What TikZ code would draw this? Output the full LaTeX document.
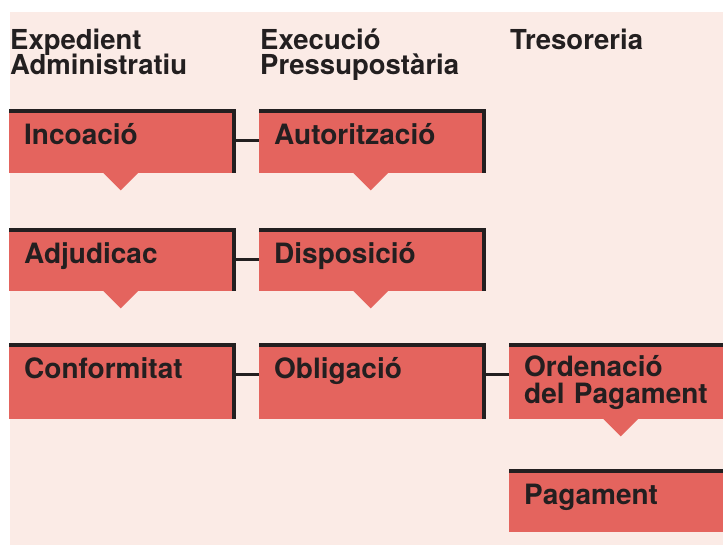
\documentclass[tikz,border=0pt]{standalone}
\usepackage{fontspec}
\setmainfont{TeX Gyre Heros}
\definecolor{bgpink}{RGB}{251,235,230}
\definecolor{boxred}{RGB}{228,100,94}
\definecolor{barblack}{RGB}{35,31,32}
\AtBeginDocument{\lineskiplimit=-20pt\relax}

\begin{document}
\begin{tikzpicture}[x=1pt,y=-1pt,
        head/.style={anchor=base west,inner sep=0pt,align=left,text=barblack,
            font=\fontsize{27.5}{25}\selectfont\bfseries},
        stage/.style={fill=boxred,anchor=north west,inner xsep=15pt,inner ysep=0pt,
            text width=197pt,align=left,text height=35pt,text=barblack,
            font=\fontsize{28}{27}\selectfont\bfseries},
        bar/.style={draw=barblack,line width=4pt},
        link/.style={draw=barblack,line width=3pt},
        pointer/.style={fill=boxred}]
            \useasboundingbox (0,0) rectangle (723,545);
            \fill[bgpink] (10,12) rectangle (723,545);

            % headers
            \node[head] (expedient) at (10,75) {Expedient\\Administratiu};
            \node[head] (execucio) at (260,75) {Execució\\Pressupostària};
            \node[head] (tresoreria) at (510,50) {Tresoreria};

            % row 1
            \node[stage,text depth=29pt] (incoacio) at (9,109) {Incoació};
            \node[stage,text depth=29pt] (autoritzacio) at (259,109) {Autorització};
            % row 2
            \node[stage,text depth=28pt] (adjudicac) at (9,228) {Adjudicac};
            \node[stage,text depth=28pt] (disposicio) at (259,228) {Disposició};
            % row 3
            \node[stage,text depth=41pt] (conformitat) at (9,343) {Conformitat};
            \node[stage,text depth=41pt] (obligacio) at (259,343) {Obligació};
            \node[stage,text height=33pt,text depth=43pt] (ordenacio) at (509,343) {Ordenació\\del Pagament};
            % row 4
            \node[stage,text depth=28pt] (pagament) at (509,469) {Pagament};

            % pointers
            \foreach \n in {incoacio,autoritzacio,adjudicac,disposicio,ordenacio}{
                \fill[pointer] ([xshift=-2pt,yshift=0.5pt]\n.south) +(-17.5,0) -- +(17.5,0) -- +(0,17.5) -- cycle;
            }

            % bars
            \foreach \n in {incoacio,autoritzacio,adjudicac,disposicio,conformitat,obligacio}{
                \draw[bar] ([yshift=-2pt]\n.north west) -- ([xshift=-2pt,yshift=-2pt]\n.north east) -- ([xshift=-2pt]\n.south east);
            }
            \foreach \n in {ordenacio,pagament}{
                \draw[bar] ([yshift=-2pt]\n.north west) -- ([yshift=-2pt]\n.north east);
            }

            % links
            \foreach \a/\b in {incoacio/autoritzacio,adjudicac/disposicio,conformitat/obligacio,obligacio/ordenacio}{
                \draw[link] ([yshift=-31.5pt]\a.north east) -- ([yshift=-31.5pt]\b.north west);
            }
\end{tikzpicture}
\end{document}
